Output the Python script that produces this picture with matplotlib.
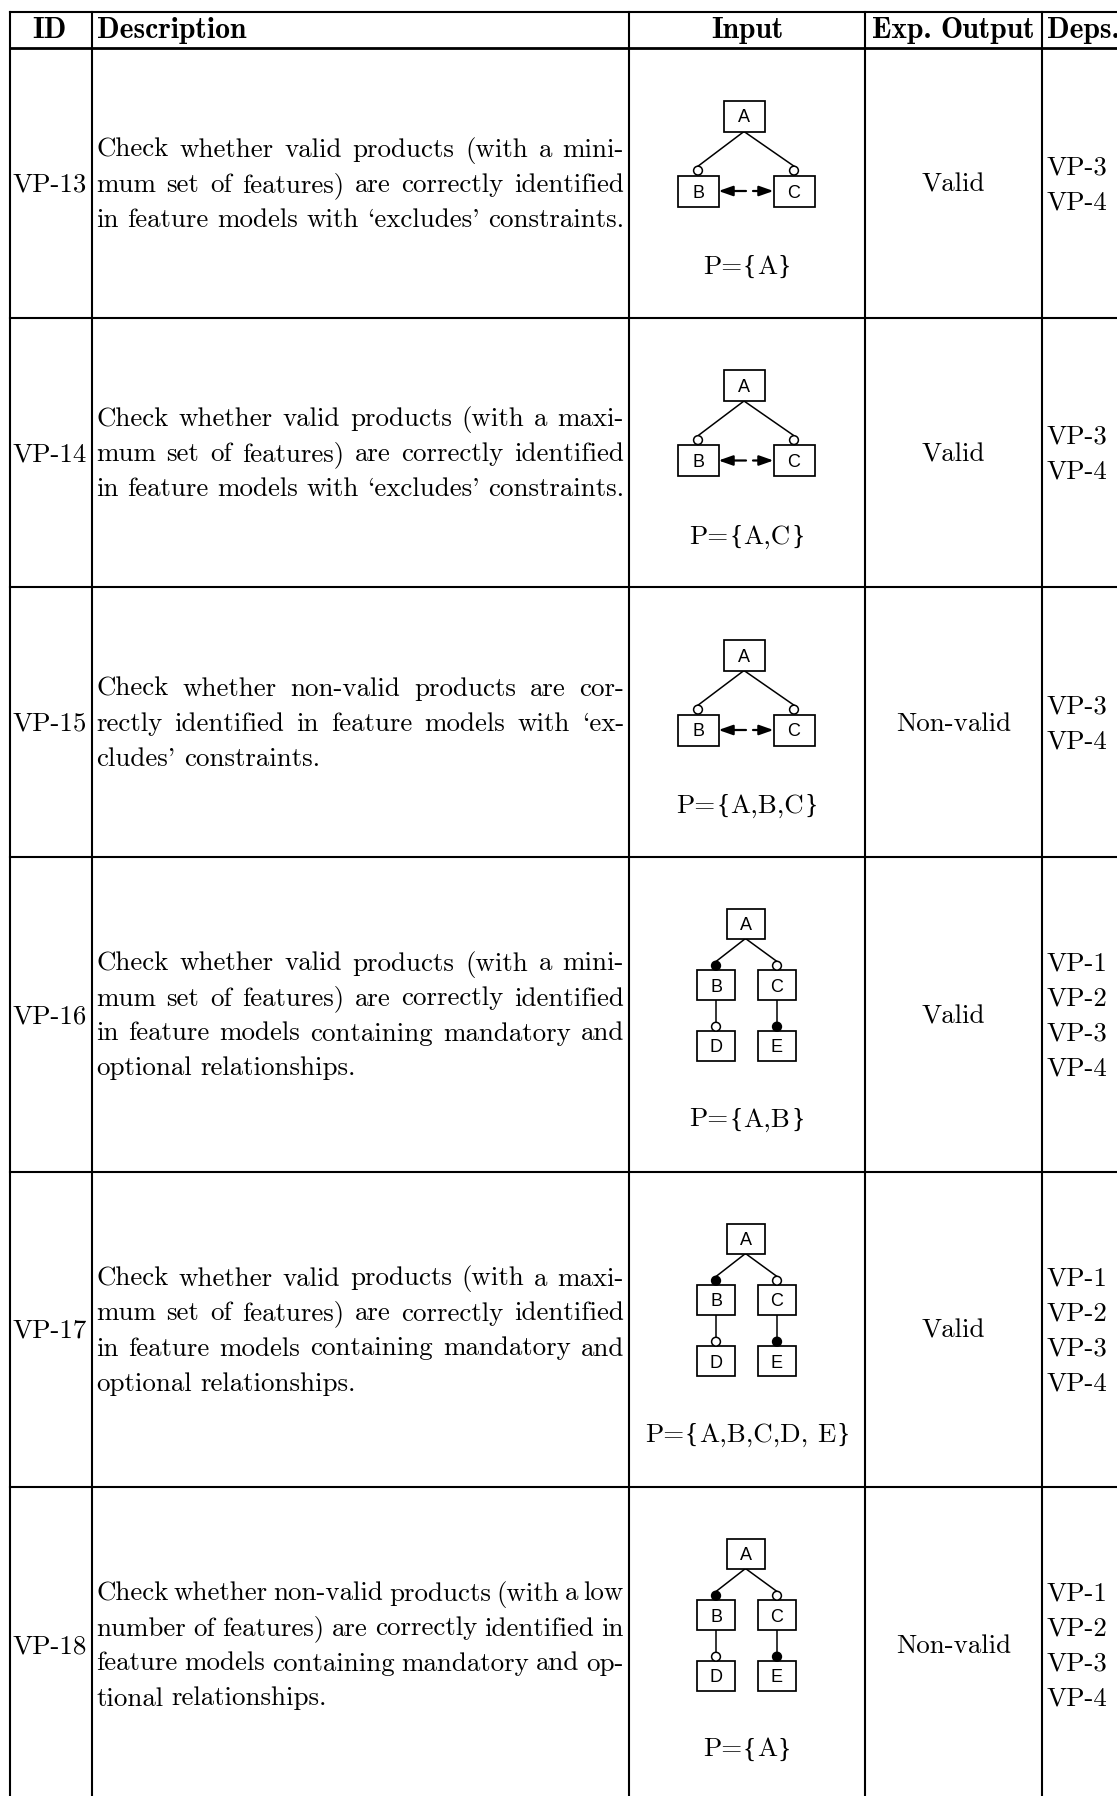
import matplotlib
matplotlib.use("Agg")
import matplotlib.pyplot as plt
from matplotlib.patches import Rectangle, Circle

W, H = 1117, 1796

# ---- table content ----
headers = ["ID", "Description", "Input", "Exp. Output", "Deps."]
ids = ["VP-13", "VP-14", "VP-15", "VP-16", "VP-17", "VP-18"]
descriptions = [
    ["Check whether valid products (with a mini-",
     "mum set of features) are correctly identified",
     "in feature models with ‘excludes’ constraints."],
    ["Check whether valid products (with a maxi-",
     "mum set of features) are correctly identified",
     "in feature models with ‘excludes’ constraints."],
    ["Check whether non-valid products are cor-",
     "rectly identified in feature models with ‘ex-",
     "cludes’ constraints."],
    ["Check whether valid products (with a mini-",
     "mum set of features) are correctly identified",
     "in feature models containing mandatory and",
     "optional relationships."],
    ["Check whether valid products (with a maxi-",
     "mum set of features) are correctly identified",
     "in feature models containing mandatory and",
     "optional relationships."],
    ["Check whether non-valid products (with a low",
     "number of features) are correctly identified in",
     "feature models containing mandatory and op-",
     "tional relationships."],
]
inputs = ["P={A}", "P={A,C}", "P={A,B,C}", "P={A,B}", "P={A,B,C,D, E}", "P={A}"]
diagrams = ["excludes", "excludes", "excludes", "tree", "tree", "tree"]
outputs = ["Valid", "Valid", "Non-valid", "Valid", "Valid", "Non-valid"]
deps = [["VP-3", "VP-4"], ["VP-3", "VP-4"], ["VP-3", "VP-4"],
        ["VP-1", "VP-2", "VP-3", "VP-4"], ["VP-1", "VP-2", "VP-3", "VP-4"],
        ["VP-1", "VP-2", "VP-3", "VP-4"]]

# ---- layout (pixels) ----
col_x = [10, 92, 629, 865, 1042, 1130]
table_top = 12
header_bottom = 48
row_h = [269.5, 269.5, 269.5, 315, 315, 315]
line_gap = 35
fs = 19.4
em = fs * 100 / 72

body = dict(fontfamily="cmr10", fontsize=fs, color="black")
bold = dict(fontfamily="cmb10", fontsize=21.3, color="black")
brace = dict(fontfamily="Liberation Serif", fontsize=fs * 1.02, color="black")
sans = dict(fontfamily="Liberation Sans", fontsize=13, color="black")

fig = plt.figure(figsize=(W / 100, H / 100), dpi=100)
ax = fig.add_axes([0, 0, 1, 1])
ax.set_xlim(0, W)
ax.set_ylim(H, 0)
ax.axis("off")
renderer = fig.canvas.get_renderer()

# cmr10 uses the TeX encoding for the curly quotes
enc = str.maketrans({"\u2018": "`", "\u2019": "'"})


def width(s, props):
    t = ax.text(0, 0, s, **props)
    w = t.get_window_extent(renderer).width
    t.remove()
    return w


def place(pieces, x, y, ha="left"):
    # pieces: (text, props, gap before)
    ws = [width(s, p) for s, p, g in pieces]
    total = sum(ws) + sum(g for s, p, g in pieces[1:])
    if ha == "center":
        x = x - total / 2
    for k, ((s, p, g), w) in enumerate(zip(pieces, ws)):
        if k:
            x += g
        ax.text(x, y, s, ha="left", va="baseline", **p)
        x += w


def words_line(line, x, y, props, ha="left", x1=None, gap=0.32):
    words = line.translate(enc).split(" ")
    g = gap * props["fontsize"] * 100 / 72
    if x1 is not None and len(words) > 1:
        ws = [width(w, props) for w in words]
        g = (x1 - x - sum(ws)) / (len(words) - 1)
    place([(w, props, g) for w in words], x, y, ha)


def p_label(s, x, y):
    # cmr10 has no braces, so they come from a plain serif face
    pieces = []
    cur = ""
    extra = 0
    for c in s:
        if c in "{} ":
            if cur:
                pieces.append((cur, body, 0.03 * em + extra))
                cur, extra = "", 0
            if c == " ":
                extra = 0.3 * em
            else:
                pieces.append((c, brace, 0.03 * em))
        else:
            cur += c
    if cur:
        pieces.append((cur, body, 0.03 * em + extra))
    place(pieces, x, y, "center")


def box(cx, cy, w, h, label):
    ax.add_patch(Rectangle((cx - w / 2, cy - h / 2), w, h, facecolor="white",
                           edgecolor="black", lw=1.25, zorder=3))
    ax.text(cx, cy + 6.5, label, ha="center", va="baseline", zorder=4, **sans)


def knob(x, y, filled):
    ax.add_patch(Circle((x, y), 4.4, facecolor="black" if filled else "white",
                        edgecolor="black", lw=1.1, zorder=4))


def excludes_diagram(cx, top):
    bw, bh = 41, 31
    ax_, ay = cx - 3, top + 68
    bx, cx2, by = cx - 49, cx + 47, top + 143
    for x in (bx, cx2):
        ax.plot([ax_, x], [ay + bh / 2, top + 118.2], color="black", lw=1.1, zorder=2)
    box(ax_, ay, bw, bh, "A")
    box(bx, by, bw, bh, "B")
    box(cx2, by, bw, bh, "C")
    knob(bx, top + 122.6, False)
    knob(cx2, top + 122.6, False)
    st = dict(arrowstyle="-|>,head_length=0.85,head_width=0.3", color="black",
              lw=1.6, shrinkA=0, shrinkB=0, mutation_scale=10)
    ax.annotate("", xy=(bx + bw / 2, by), xytext=(cx - 1, by), arrowprops=st)
    ax.annotate("", xy=(cx2 - bw / 2, by), xytext=(cx + 6, by), arrowprops=st)


def tree_diagram(cx, top):
    bw, bh = 38, 30
    ax_, ay = cx - 1.5, top + 67
    lx, rx = cx - 31, cx + 30
    y1, y2 = top + 128.5, top + 189.5
    for x in (lx, rx):
        ax.plot([ax_, x], [ay + bh / 2, top + 105], color="black", lw=1.1, zorder=2)
        ax.plot([x, x], [y1 + bh / 2, top + 166], color="black", lw=1.1, zorder=2)
    box(ax_, ay, bw, bh, "A")
    box(lx, y1, bw, bh, "B")
    box(rx, y1, bw, bh, "C")
    box(lx, y2, bw, bh, "D")
    box(rx, y2, bw, bh, "E")
    knob(lx, top + 109.2, True)
    knob(rx, top + 109.2, False)
    knob(lx, top + 170.2, False)
    knob(rx, top + 170.2, True)


# ---- grid ----
row_edges = [header_bottom]
for h in row_h:
    row_edges.append(row_edges[-1] + h)

lw = 1.5
ax.plot([col_x[0], W], [table_top, table_top], color="black", lw=lw)
ax.plot([col_x[0], W], [header_bottom, header_bottom], color="black", lw=2.0)
for y in row_edges[1:-1]:
    ax.plot([col_x[0], W], [y, y], color="black", lw=lw)
for x in col_x[:-1]:
    ax.plot([x, x], [table_top, H], color="black", lw=lw)

# ---- header ----
hy = 37.5
words_line(headers[0], (col_x[0] + col_x[1]) / 2 - 2, hy, bold, ha="center")
words_line(headers[1], col_x[1] + 5, hy, bold)
words_line(headers[2], (col_x[2] + col_x[3]) / 2, hy, bold, ha="center")
words_line(headers[3], (col_x[3] + col_x[4]) / 2, hy, bold, ha="center")
words_line(headers[4], col_x[4] + 5, hy, bold)

# ---- rows ----
for i in range(len(ids)):
    top, bot = row_edges[i], row_edges[i + 1]
    mid = (top + bot) / 2
    words_line(ids[i], col_x[0] + 3, mid + 9, body)

    lines = descriptions[i]
    n = len(lines)
    for j, line in enumerate(lines):
        y = mid + (j - (n - 1) / 2) * line_gap + 9
        last = j == n - 1
        words_line(line, col_x[1] + 4, y, body, x1=None if last else col_x[2] - 5)

    cx = (col_x[2] + col_x[3]) / 2
    if diagrams[i] == "excludes":
        excludes_diagram(cx, top)
        py = top + 226
    else:
        tree_diagram(cx, top)
        py = top + 270
    p_label(inputs[i], cx, py)

    words_line(outputs[i], (col_x[3] + col_x[4]) / 2, mid + 9, body, ha="center")

    m = len(deps[i])
    for j, d in enumerate(deps[i]):
        y = mid + (j - (m - 1) / 2) * line_gap + 9
        words_line(d, col_x[4] + 5, y, body)

fig.savefig("out.png", dpi=100)
